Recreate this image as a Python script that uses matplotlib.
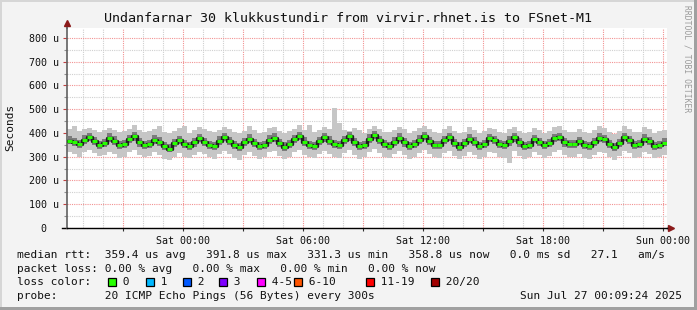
import numpy as np
import matplotlib.pyplot as plt
from matplotlib.patches import Rectangle
from matplotlib.ticker import FuncFormatter, MultipleLocator

W, H = 697, 310
T_START = -5.775  # hours relative to Sat 00:00
STEP_H = 0.25     # one sample every 15 min

# median rtt in microseconds
MEDIAN = [
    368, 362, 352, 372, 384, 366, 350, 356,
    380, 368, 348, 352, 374, 386, 360, 348,
    354, 372, 364, 346, 331, 356, 370, 352,
    344, 360, 378, 362, 350, 346, 368, 384,
    366, 348, 340, 362, 376, 358, 344, 350,
    372, 380, 356, 342, 352, 374, 388, 364,
    350, 346, 366, 382, 368, 352, 348, 370,
    386, 362, 344, 350, 376, 392, 370, 352,
    346, 364, 380, 360, 344, 352, 372, 388,
    366, 350, 348, 370, 384, 358, 342, 356,
    376, 364, 346, 352, 378, 370, 354, 348,
    368, 382, 360, 344, 350, 374, 362, 348,
    356, 378, 384, 360, 352, 354, 366, 350,
    344, 362, 380, 374, 352, 340, 358, 384,
    370, 348, 352, 376, 366, 346, 350, 359,
]

# smoke: spread of the 20 pings
OUTER_LO = [
    318, 312, 300, 320, 328, 314, 302, 306,
    322, 310, 296, 300, 318, 330, 306, 298,
    302, 318, 306, 292, 286, 300, 314, 298,
    294, 306, 322, 310, 298, 292, 312, 326,
    310, 296, 288, 308, 320, 302, 292, 298,
    318, 324, 302, 290, 300, 318, 330, 308,
    298, 294, 312, 326, 312, 300, 296, 316,
    328, 306, 292, 298, 320, 334, 314, 300,
    294, 310, 324, 306, 292, 300, 316, 330,
    312, 298, 296, 314, 326, 304, 290, 302,
    320, 308, 292, 298, 322, 314, 300, 296,
    272, 324, 304, 292, 298, 318, 306, 294,
    302, 320, 328, 306, 298, 300, 312, 296,
    292, 308, 322, 316, 298, 288, 304, 326,
    314, 296, 300, 320, 312, 294, 298, 306,
]
OUTER_HI = [
    415, 428, 410, 418, 422, 412, 406, 414,
    420, 412, 404, 408, 416, 432, 414, 406,
    410, 418, 428, 404, 398, 410, 420, 428,
    402, 412, 424, 416, 408, 404, 414, 426,
    418, 404, 400, 410, 428, 412, 402, 406,
    420, 426, 410, 400, 408, 418, 432, 414,
    432, 404, 412, 424, 418, 505, 440, 414,
    408, 420, 414, 402, 416, 428, 418, 406,
    404, 414, 426, 418, 400, 408, 420, 430,
    416, 404, 402, 418, 428, 410, 398, 406,
    424, 414, 400, 408, 420, 418, 406, 402,
    416, 426, 410, 398, 404, 422, 414, 402,
    408, 424, 430, 412, 404, 406, 416, 404,
    400, 412, 428, 420, 406, 396, 410, 428,
    418, 404, 406, 424, 416, 402, 408, 412,
]
INNER_LO = [
    352, 346, 336, 355, 366, 349, 334, 340,
    362, 351, 332, 336, 357, 368, 343, 332,
    338, 355, 347, 330, 318, 340, 353, 336,
    328, 343, 360, 345, 334, 330, 351, 366,
    349, 332, 324, 345, 358, 341, 328, 334,
    355, 362, 339, 326, 336, 357, 370, 347,
    334, 330, 349, 364, 351, 336, 332, 353,
    368, 345, 328, 334, 359, 374, 353, 336,
    330, 347, 362, 343, 328, 336, 355, 370,
    349, 334, 332, 353, 366, 341, 326, 340,
    359, 347, 330, 336, 360, 353, 338, 332,
    345, 364, 343, 328, 334, 357, 345, 332,
    340, 361, 366, 343, 336, 338, 349, 334,
    328, 345, 362, 357, 336, 324, 341, 366,
    353, 332, 336, 359, 349, 330, 334, 344,
]
INNER_HI = [
    386, 380, 370, 390, 402, 384, 368, 374,
    398, 386, 366, 370, 392, 404, 378, 366,
    372, 390, 382, 364, 352, 374, 388, 370,
    362, 378, 396, 380, 368, 364, 386, 402,
    384, 366, 358, 380, 394, 376, 362, 368,
    390, 398, 374, 360, 370, 392, 406, 382,
    368, 364, 384, 400, 388, 372, 366, 388,
    404, 380, 362, 368, 394, 410, 388, 370,
    364, 382, 398, 378, 362, 370, 390, 406,
    384, 368, 366, 388, 402, 376, 360, 374,
    394, 382, 364, 370, 396, 388, 372, 366,
    386, 400, 378, 362, 368, 392, 380, 366,
    374, 396, 402, 378, 370, 372, 384, 368,
    362, 380, 398, 392, 370, 358, 376, 402,
    388, 366, 370, 394, 384, 364, 368, 380,
]

TIME_LABELS = {0: "Sat 00:00", 6: "Sat 06:00", 12: "Sat 12:00",
               18: "Sat 18:00", 24: "Sun 00:00"}

LOSS_LABELS = ["0", "1", "2", "3", "4-5", "6-10", "11-19", "20/20"]
LOSS_COLORS = ["#26ff00", "#00b8ff", "#0059ff", "#7e00ff",
               "#ff00ff", "#ff5500", "#ff0000", "#a10000"]
LOSS_BOX_X = [108, 146, 183, 219, 257, 294, 366, 431]

TITLE = "Undanfarnar 30 klukkustundir from virvir.rhnet.is to FSnet-M1"
ROW_RTT = ("median rtt:  359.4 us avg   391.8 us max   331.3 us min   "
           "358.8 us now   0.0 ms sd   27.1   am/s")
ROW_LOSS = "packet loss: 0.00 % avg   0.00 % max   0.00 % min   0.00 % now"
ROW_PROBE = "probe:       20 ICMP Echo Pings (56 Bytes) every 300s"
STAMP = "Sun Jul 27 00:09:24 2025"

plt.rcParams["font.family"] = "DejaVu Sans Mono"


def px(x, y):
    return x / W, 1 - y / H


def ext(values):
    return np.append(values, values[-1])


fig = plt.figure(figsize=(W / 100, H / 100), dpi=100, facecolor="#f3f3f3")

# 3d-ish frame
fig.add_artist(Rectangle((0, 1 - 2 / H), 1, 2 / H, transform=fig.transFigure,
                         color="#d6d6d6", lw=0))
fig.add_artist(Rectangle((0, 0), 2 / W, 1, transform=fig.transFigure,
                         color="#d6d6d6", lw=0))
fig.add_artist(Rectangle((1 - 3 / W, 0), 3 / W, 1, transform=fig.transFigure,
                         color="#a0a0a0", lw=0))
fig.add_artist(Rectangle((0, 0), 1, 3 / H, transform=fig.transFigure,
                         color="#a0a0a0", lw=0))

ax = fig.add_axes([67 / W, (H - 228) / H, 600 / W, 200 / H])
ax.set_facecolor("white")

t = T_START + np.arange(len(MEDIAN)) * STEP_H
edges = np.append(t, t[-1] + STEP_H)

ax.fill_between(edges, ext(OUTER_LO), ext(OUTER_HI), step="post",
                color="#c6c6c6", lw=0, zorder=2)
ax.fill_between(edges, ext(INNER_LO), ext(INNER_HI), step="post",
                color="#7c7c7c", lw=0, zorder=3)
ax.step(edges, ext(MEDIAN), where="post", color="#1e1e1e", lw=2.4, zorder=4)
ax.hlines(MEDIAN, t, t + STEP_H, color=LOSS_COLORS[0], lw=2.2, zorder=5)

ax.set_xlim(T_START, T_START + 30)
ax.set_ylim(0, 842)

ax.xaxis.set_major_locator(MultipleLocator(3))
ax.xaxis.set_minor_locator(MultipleLocator(1))
ax.yaxis.set_major_locator(MultipleLocator(100))
ax.yaxis.set_minor_locator(MultipleLocator(50))


def xfmt(v, _):
    k = int(round(v))
    return TIME_LABELS.get(k, "") if abs(v - k) < 1e-6 else ""


def yfmt(v, _):
    return f"{int(round(v))} u" if v > 0 else "0  "


ax.xaxis.set_major_formatter(FuncFormatter(xfmt))
ax.yaxis.set_major_formatter(FuncFormatter(yfmt))

ax.set_axisbelow(True)
ax.grid(which="minor", color="#d0d0d0", ls=(0, (1, 1)), lw=0.8)
ax.grid(which="major", color="#f29292", ls=(0, (1, 1)), lw=0.8)

ax.tick_params(axis="x", which="major", length=2, width=0.8, color="#303030",
               labelsize=7.2, pad=4, labelcolor="#111111")
ax.tick_params(axis="x", which="minor", length=0)
ax.tick_params(axis="y", which="major", length=3, width=0.8, color="#c04040",
               labelsize=7.2, pad=3, labelcolor="#111111")
ax.tick_params(axis="y", which="minor", length=2, width=0.8, color="#909090")

for side in ("top", "right"):
    ax.spines[side].set_visible(False)
ax.spines["left"].set_color("#606060")
ax.spines["left"].set_linewidth(1.2)
ax.spines["bottom"].set_color("black")
ax.spines["bottom"].set_linewidth(1.0)

# axis extensions and arrow heads
ax.plot([0, 0], [1, 1.02], transform=ax.transAxes, color="#606060", lw=1.2,
        clip_on=False)
ax.plot([-0.008, 0], [0, 0], transform=ax.transAxes, color="black", lw=1.0,
        clip_on=False)
ax.plot([1, 1.004], [0, 0], transform=ax.transAxes, color="black", lw=1.0,
        clip_on=False)
ax.plot([0], [1.025], marker="^", ms=4.5, color="#8b1a1a", transform=ax.transAxes,
        clip_on=False, lw=0)
ax.plot([1.006], [0], marker=">", ms=4.5, color="#8b1a1a", transform=ax.transAxes,
        clip_on=False, lw=0)

fig.text(*px(10, 127.5), "Seconds", rotation=90, ha="center", va="center",
         fontsize=8, color="#111111")

fig.text(*px(348.5, 19), TITLE, ha="center", va="center", fontsize=9.6,
         color="#111111")
fig.text(*px(686.5, 5), "RRDTOOL / TOBI OETIKER", rotation=-90, ha="center",
         va="top", fontsize=5.8, color="#9a9a9a")

fig.text(*px(17, 255), ROW_RTT, ha="left", va="center", fontsize=8,
         color="#111111")
fig.text(*px(17, 268.5), ROW_LOSS, ha="left", va="center", fontsize=8,
         color="#111111")
fig.text(*px(17, 282), "loss color:", ha="left", va="center", fontsize=8,
         color="#111111")
for bx, lbl, col in zip(LOSS_BOX_X, LOSS_LABELS, LOSS_COLORS):
    fig.add_artist(Rectangle(px(bx, 286), 8 / W, 8 / H, transform=fig.transFigure,
                             facecolor=col, edgecolor="black", lw=0.9))
    fig.text(*px(bx + 8, 282), " " + lbl, ha="left", va="center", fontsize=8,
             color="#111111")
fig.text(*px(17, 296), ROW_PROBE, ha="left", va="center", fontsize=8,
         color="#111111")
fig.text(*px(682, 296), STAMP, ha="right", va="center", fontsize=8,
         color="#111111")

fig.savefig("out.png", dpi=100, facecolor=fig.get_facecolor())
plt.close(fig)
